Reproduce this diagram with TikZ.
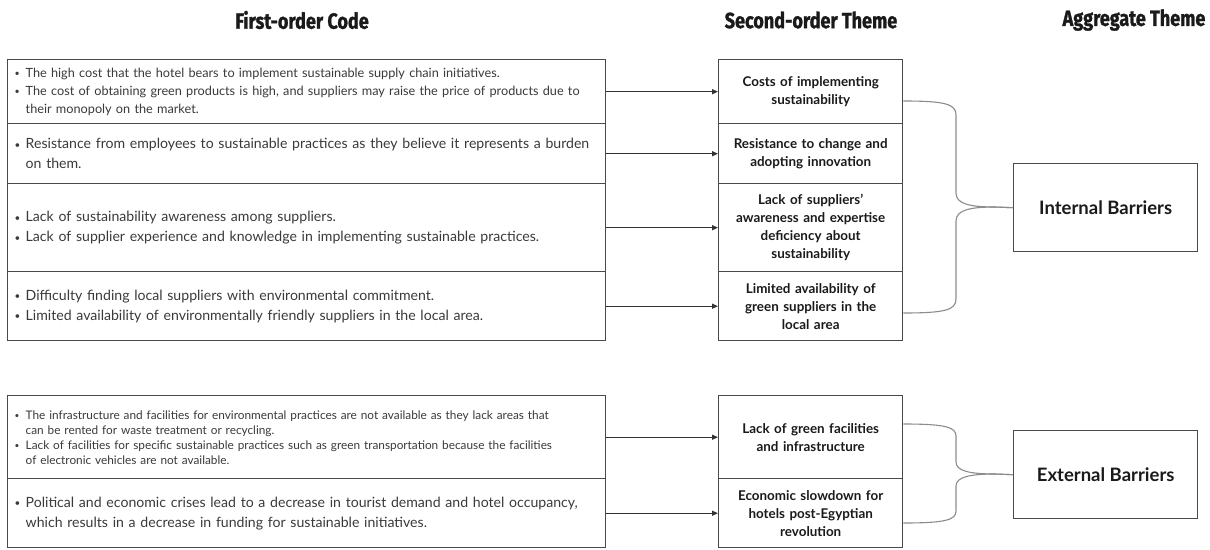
\documentclass[tikz,border=0pt]{standalone}
\usepackage{fontspec}
\usepackage{graphicx}
\setmainfont{Lato}
\newfontfamily\hdrfont[FakeStretch=0.82,FakeBold=1.2]{Fira Sans}
\usetikzlibrary{arrows.meta}
\definecolor{boxc}{HTML}{4A4A4A}
\definecolor{arrc}{HTML}{333333}
\definecolor{bracec}{HTML}{8C8C8C}
\definecolor{txtc}{HTML}{3A3A3A}
\definecolor{boldc}{HTML}{1A1A1A}
\newcommand\lbul{\makebox[11pt][l]{\raisebox{0.5pt}{\scalebox{0.7}{\textbullet}}}}
\newcommand\lind{\hspace*{11pt}}
\tikzset{
 lbox/.style={draw=boxc, line width=1.4pt, anchor=north west, minimum width=598pt,
   text width=584pt, inner xsep=7pt, align=left, text=txtc, font=\fontsize{14.1}{20}\selectfont},
 lboxs/.style={lbox, font=\fontsize{12.7}{18}\selectfont},
 lboxt/.style={lbox, font=\fontsize{11.8}{15}\selectfont},
 mbox/.style={draw=boxc, line width=1.4pt, anchor=north west, minimum width=184pt,
   text width=176pt, inner xsep=4pt, align=center, text=boldc, font=\bfseries\fontsize{13.4}{18}\selectfont},
 abox/.style={draw=boxc, line width=1.4pt, anchor=north west, minimum width=184pt,
   minimum height=88pt, text=boldc, font=\bfseries\fontsize{18.5}{20}\selectfont},
 hdr/.style={text=boldc, font=\hdrfont\bfseries\fontsize{22}{24}\selectfont},
 arr/.style={-{Triangle[length=6pt,width=5pt]}, line width=1.2pt, draw=arrc},
 bracepath/.style={draw=bracec, line width=1.1pt},
}
\begin{document}
\begin{tikzpicture}[x=1pt,y=-1pt]
\fill[white] (0,0) rectangle (1210,549);
\useasboundingbox (0,0) rectangle (1210,549);

% headers
\node[hdr] (H1) at (302,20) {First-order Code};
\node[hdr] (H2) at (811,20) {Second-order Theme};
\node[hdr] (H3) at (1134,20) {Aggregate Theme};

% group 1 - first-order codes
\node[lboxs, minimum height=64pt] (L1) at (7,59) {\lbul The high cost that the hotel bears to implement sustainable supply chain initiatives.\\
\lbul The cost of obtaining green products is high, and suppliers may raise the price of products due to\\
\lind their monopoly on the market.};
\node[lbox, minimum height=60pt] (L2) at (7,123) {\lbul Resistance from employees to sustainable practices as they believe it represents a burden\\
\lind on them.};
\node[lbox, minimum height=88pt] (L3) at (7,183) {\lbul Lack of sustainability awareness among suppliers.\\
\lbul Lack of supplier experience and knowledge in implementing sustainable practices.};
\node[lbox, minimum height=69pt] (L4) at (7,271) {\lbul Difficulty finding local suppliers with environmental commitment.\\
\lbul Limited availability of environmentally friendly suppliers in the local area.};

% group 1 - second-order themes
\node[mbox, minimum height=64pt] (M1) at (718,59) {Costs of implementing\\sustainability};
\node[mbox, minimum height=60pt] (M2) at (718,123) {Resistance to change and\\adopting innovation};
\node[mbox, minimum height=88pt] (M3) at (718,183) {Lack of suppliers'\\awareness and expertise\\deficiency about\\sustainability};
\node[mbox, minimum height=69pt] (M4) at (718,271) {Limited availability of\\green suppliers in the\\local area};

\node[abox] (IB) at (1013,163) {Internal Barriers};

\draw[arr] (L1.east) -- (M1.west);
\draw[arr] (L2.east) -- (M2.west);
\draw[arr] (L3.east) -- (M3.west);
\draw[arr] (L4.east) -- (M4.west);

\draw[bracepath] (M1.east |- 0,101) .. controls (945,101) and (956,104) .. (956,115)
  -- (956,193) .. controls (956,204) and (970,207) .. (995,207) -- (IB.west);
\draw[bracepath] (IB.west) -- (995,207) .. controls (970,207) and (956,210) .. (956,221)
  -- (956,299) .. controls (956,310) and (945,313) .. (M4.east |- 0,313);

% group 2 - first-order codes
\node[lboxt, minimum height=83pt] (L5) at (7,395) {\lbul The infrastructure and facilities for environmental practices are not available as they lack areas that\\
\lind can be rented for waste treatment or recycling.\\
\lbul Lack of facilities for specific sustainable practices such as green transportation because the facilities\\
\lind of electronic vehicles are not available.};
\node[lbox, minimum height=69pt] (L6) at (7,478) {\lbul Political and economic crises lead to a decrease in tourist demand and hotel occupancy,\\
\lind which results in a decrease in funding for sustainable initiatives.};

% group 2 - second-order themes
\node[mbox, minimum height=83pt] (M5) at (718,395) {Lack of green facilities\\and infrastructure};
\node[mbox, minimum height=69pt] (M6) at (718,478) {Economic slowdown for\\hotels post-Egyptian\\revolution};

\node[abox] (EB) at (1013,430) {External Barriers};

\draw[arr] (L5.east) -- (M5.west);
\draw[arr] (L6.east) -- (M6.west);

\draw[bracepath] (M5.east |- 0,424) .. controls (945,424) and (956,427) .. (956,436)
  -- (956,462) .. controls (956,471) and (970,474) .. (995,474) -- (EB.west);
\draw[bracepath] (EB.west) -- (995,474) .. controls (970,474) and (956,477) .. (956,486)
  -- (956,511) .. controls (956,520) and (945,523) .. (M6.east |- 0,523);
\end{tikzpicture}
\end{document}
